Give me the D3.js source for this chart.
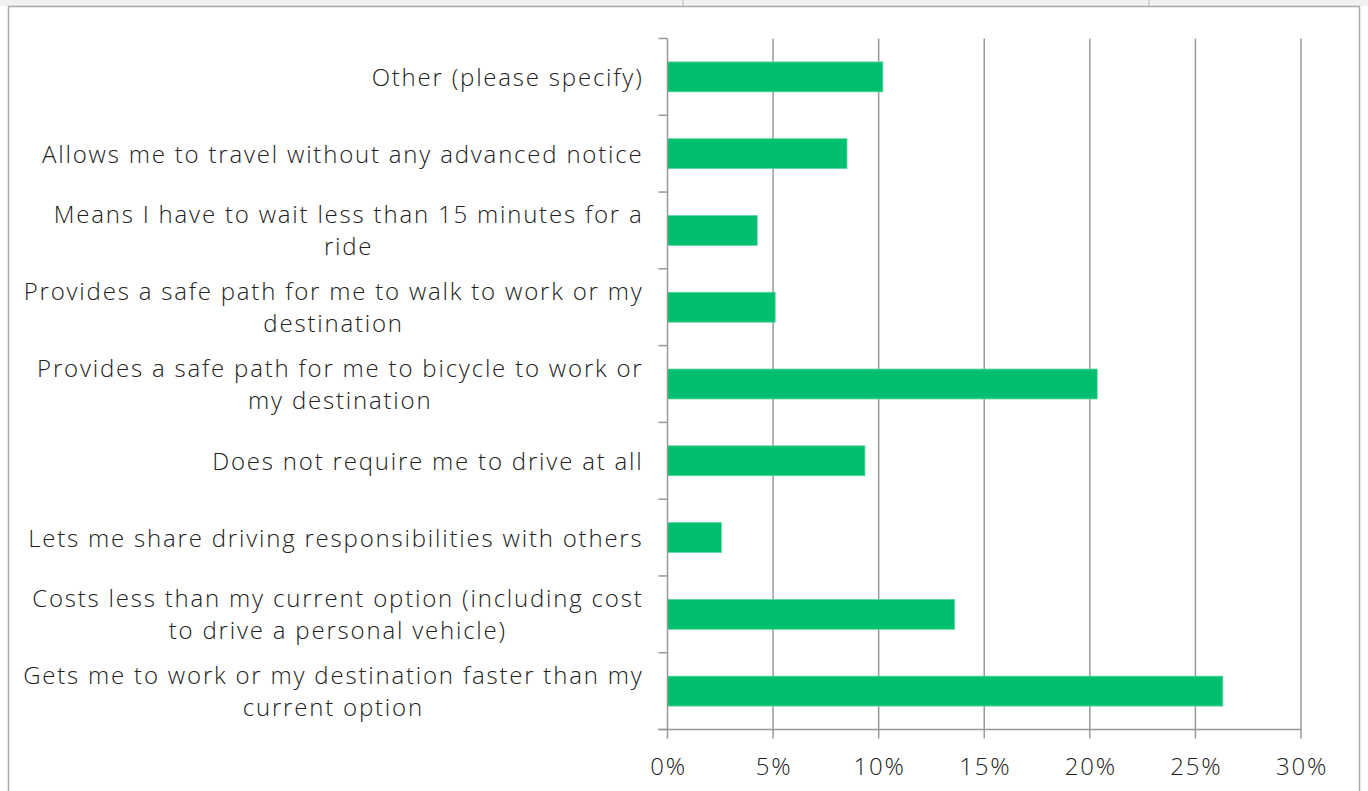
<!DOCTYPE html>
<html>
<head>
<meta charset="utf-8">
<script src="https://cdn.jsdelivr.net/npm/d3@7"></script>
<style>
  body { margin: 0; background: #fff; }
  svg { display: block; }
  text { font-family: "Open Sans", Lato, sans-serif; font-weight: 300; fill: #222; letter-spacing: 1.8px; }
</style>
</head>
<body>
<svg width="1368" height="791"></svg>
<script>
// answer options, top to bottom as shown
var categories = [
  "Other (please specify)",
  "Allows me to travel without any advanced notice",
  "Means I have to wait less than 15 minutes for a|ride",
  "Provides a safe path for me to walk to work or my|destination",
  "Provides a safe path for me to bicycle to work or|my destination",
  "Does not require me to drive at all",
  "Lets me share driving responsibilities with others",
  "Costs less than my current option (including cost|to drive a personal vehicle)",
  "Gets me to work or my destination faster than my|current option"
];
var values = [10.2, 8.5, 4.25, 5.1, 20.35, 9.35, 2.55, 13.6, 26.3];
var tickValues = [0, 5, 10, 15, 20, 25, 30];

var svg = d3.select("svg");

// top grey strip + frame
svg.append("rect").attr("x", 0).attr("y", 0).attr("width", 1368).attr("height", 6).attr("fill", "#f0f0f0");
svg.append("line").attr("x1", 683).attr("x2", 683).attr("y1", 0).attr("y2", 6).attr("stroke", "#bbb");
svg.append("line").attr("x1", 1149).attr("x2", 1149).attr("y1", 0).attr("y2", 6).attr("stroke", "#bbb");
svg.append("rect").attr("x", 8.5).attr("y", 6.5).attr("width", 1351).attr("height", 800)
  .attr("fill", "#fff").attr("stroke", "#aaa").attr("stroke-width", 1.5);

var plotL = 667.5, plotR = 1301, plotT = 38.5, plotB = 729.5;

var x = d3.scaleLinear().domain([0, 30]).range([plotL, plotR]);
var y = d3.scaleBand().domain(categories).range([plotT, plotB]).paddingInner(0.61).paddingOuter(0.305);
var yTicks = d3.scaleBand().domain(categories).range([plotT, plotB]);

var g = svg.append("g");

// vertical gridlines
g.selectAll(".grid").data(tickValues.slice(1)).enter().append("line")
  .attr("x1", d => x(d)).attr("x2", d => x(d))
  .attr("y1", plotT).attr("y2", plotB + 9)
  .attr("stroke", "#999").attr("stroke-width", 1.5);

// bars
g.selectAll(".bar").data(categories).enter().append("rect")
  .attr("x", x(0))
  .attr("y", d => y(d))
  .attr("width", (d, i) => x(values[i]) - x(0))
  .attr("height", y.bandwidth())
  .attr("fill", "#00bf6f")
  .attr("stroke", "#5fd8a2").attr("stroke-width", 0.8);

// y axis line + ticks
g.append("line").attr("x1", plotL).attr("x2", plotL).attr("y1", plotT).attr("y2", plotB + 9)
  .attr("stroke", "#999").attr("stroke-width", 1.5);
var yt = categories.map(d => yTicks(d)).concat([plotB]);
g.selectAll(".ytick").data(yt).enter().append("line")
  .attr("x1", plotL - 9).attr("x2", plotL)
  .attr("y1", d => d).attr("y2", d => d)
  .attr("stroke", "#999").attr("stroke-width", 1.5);

// x axis line
g.append("line").attr("x1", plotL - 9).attr("x2", plotR).attr("y1", plotB).attr("y2", plotB)
  .attr("stroke", "#999").attr("stroke-width", 1.5);

// x tick labels
g.selectAll(".xlab").data(tickValues).enter().append("text")
  .attr("x", d => x(d) + 1).attr("y", 775)
  .attr("text-anchor", "middle")
  .style("font-size", "24px")
  .text(d => d + "%");

// category labels (wrapped lines centred under the first)
categories.forEach(function(c) {
  var lines = c.split("|");
  var cy = yTicks(c) + yTicks.bandwidth() / 2;
  var lh = 32;
  var t = g.append("text").style("font-size", "24px").attr("text-anchor", "middle");
  lines.forEach(function(l, i) {
    t.append("tspan").attr("y", cy - (lines.length - 1) * lh / 2 + i * lh + 9).text(l);
  });
  // right align the block at x=642, centre each line in it
  var w = d3.max(t.selectAll("tspan").nodes(), n => n.getComputedTextLength());
  t.selectAll("tspan").attr("x", 643.5 - w / 2);
});
</script>
</body>
</html>
